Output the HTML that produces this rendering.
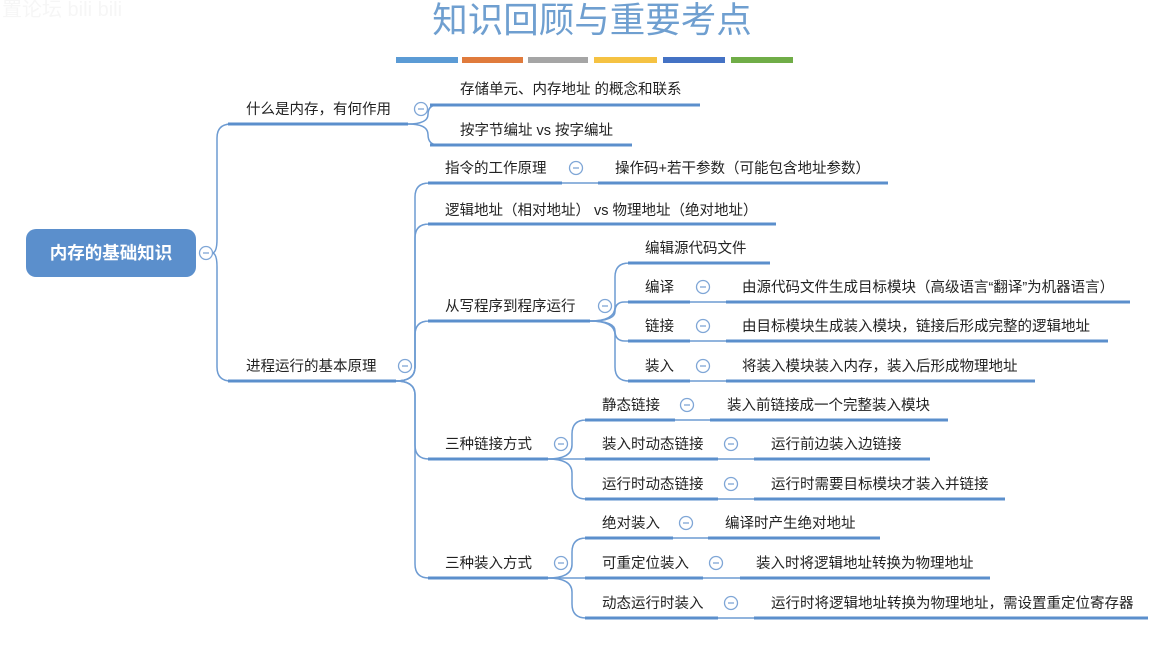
<!DOCTYPE html>
<html><head><meta charset="utf-8"><style>
html,body{margin:0;padding:0;background:#fff;}
svg{display:block}
text{font-family:"Liberation Sans","Noto Sans CJK SC",sans-serif;font-size:14.5px;fill:#222;dominant-baseline:central}
.u{stroke:#5b8fcc;stroke-width:3;fill:none}
.c{stroke:#6d9bd2;stroke-width:1.5;fill:none}
.o{fill:#fff;stroke:#7fa6d6;stroke-width:1.3}
</style></head><body>
<svg width="1176" height="648" viewBox="0 0 1176 648">
<text x="592" y="20" text-anchor="middle" style="font-size:35.5px;fill:#6f9fd0">知识回顾与重要考点</text>
<rect x="396" y="57" width="62" height="6" fill="#5b9bd5"/>
<rect x="462" y="57" width="61" height="6" fill="#e07b3c"/>
<rect x="528" y="57" width="60" height="6" fill="#a5a5a5"/>
<rect x="594" y="57" width="63" height="6" fill="#f5c242"/>
<rect x="663" y="57" width="62" height="6" fill="#4472c4"/>
<rect x="731" y="57" width="62" height="6" fill="#70ad47"/>
<text x="2" y="10" style="font-size:20px;fill:#f6f6f6">置论坛 bili bili</text>

<g id="conn"></g>

<rect x="26" y="229" width="170" height="48" rx="10" fill="#5b8fcc"/>
<text x="111" y="253" text-anchor="middle" style="font-size:17.5px;font-weight:bold;fill:#fff">内存的基础知识</text>

<g id="und"></g>
<g id="circ"></g>

<text x="246" y="110">什么是内存，有何作用</text>
<text x="460" y="90">存储单元、内存地址 的概念和联系</text>
<text x="460" y="131">按字节编址 vs 按字编址</text>
<text x="246" y="367">进程运行的基本原理</text>
<text x="445" y="169">指令的工作原理</text>
<text x="615" y="169">操作码+若干参数（可能包含地址参数）</text>
<text x="445" y="211">逻辑地址（相对地址） vs 物理地址（绝对地址）</text>
<text x="445" y="307">从写程序到程序运行</text>
<text x="645" y="249">编辑源代码文件</text>
<text x="645" y="288">编译</text>
<text x="742" y="288">由源代码文件生成目标模块（高级语言“翻译”为机器语言）</text>
<text x="645" y="327">链接</text>
<text x="742" y="327">由目标模块生成装入模块，链接后形成完整的逻辑地址</text>
<text x="645" y="367">装入</text>
<text x="742" y="367">将装入模块装入内存，装入后形成物理地址</text>
<text x="445" y="445">三种链接方式</text>
<text x="602" y="406">静态链接</text>
<text x="727" y="406">装入前链接成一个完整装入模块</text>
<text x="602" y="445">装入时动态链接</text>
<text x="771" y="445">运行前边装入边链接</text>
<text x="602" y="485">运行时动态链接</text>
<text x="771" y="485">运行时需要目标模块才装入并链接</text>
<text x="445" y="564">三种装入方式</text>
<text x="602" y="524">绝对装入</text>
<text x="725" y="524">编译时产生绝对地址</text>
<text x="602" y="564">可重定位装入</text>
<text x="756" y="564">装入时将逻辑地址转换为物理地址</text>
<text x="602" y="604">动态运行时装入</text>
<text x="771" y="604">运行时将逻辑地址转换为物理地址，需设置重定位寄存器</text>
</svg>
<script>
var NS="http://www.w3.org/2000/svg";
function el(g,t,a){var e=document.createElementNS(NS,t);for(var k in a)e.setAttribute(k,a[k]);document.getElementById(g).appendChild(e);}
var U=[[228,408,124],[430,700,105],[430,632,145],[228,396,381],[428,562,183],[598,888,183],[428,776,224],[428,590,321],
[628,770,263],[628,690,302],[726,1130,302],[628,690,341],[726,1108,341],[628,690,381],[726,1035,381],
[428,548,459],[585,675,420],[710,948,420],[585,718,459],[754,930,459],[585,718,499],[754,1005,499],
[428,548,578],[585,673,538],[708,880,538],[585,703,578],[740,990,578],[585,718,618],[754,1148,618]];
U.forEach(function(u){el("und","line",{x1:u[0],x2:u[1],y1:u[2],y2:u[2],"class":"u"});});
[[206,253],[421,109],[405,366],[576,168],[605,306],[703,287],[703,326],[703,366],[561,444],[687,405],[731,444],[731,484],[561,563],[686,523],[716,563],[731,603]]
.forEach(function(c){el("circ","circle",{cx:c[0],cy:c[1],r:6.5,"class":"o"});el("circ","line",{x1:c[0]-3,x2:c[0]+3,y1:c[1],y2:c[1],stroke:"#7fa6d6","stroke-width":1.3});});
function br(sx,sy,bx,kids){kids.forEach(function(k){var cy=k[0],cx=k[1],d;
 if(Math.abs(cy-sy)<2){d="M"+sx+","+sy+" L"+cx+","+cy;}
 else{var s=cy>sy?1:-1,r=Math.min(14,Math.abs(cy-sy)/2);
 d="M"+sx+","+sy+" Q"+bx+","+sy+" "+bx+","+(sy+s*r)+" L"+bx+","+(cy-s*r)+" Q"+bx+","+cy+" "+(bx+r)+","+cy+" L"+cx+","+cy;}
 el("conn","path",{d:d,"class":"c"});});}
br(212,253,217,[[124,228],[381,228]]);
br(408,124,428,[[105,430],[145,430]]);
br(396,381,415,[[183,428],[224,428],[321,428],[459,428],[578,428]]);
br(562,183,0,[[183,598]]);
br(590,321,615,[[263,628],[302,628],[341,628],[381,628]]);
br(690,302,0,[[302,726]]);br(690,341,0,[[341,726]]);br(690,381,0,[[381,726]]);
br(548,459,572,[[420,585],[459,585],[499,585]]);
br(675,420,0,[[420,710]]);br(718,459,0,[[459,754]]);br(718,499,0,[[499,754]]);
br(548,578,572,[[538,585],[578,585],[618,585]]);
br(673,538,0,[[538,708]]);br(703,578,0,[[578,740]]);br(718,618,0,[[618,754]]);
</script>
</body></html>
